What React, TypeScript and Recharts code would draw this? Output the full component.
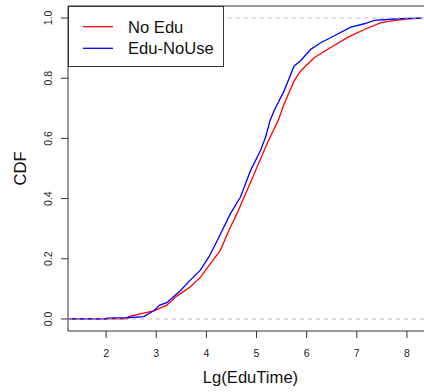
import { LineChart, Line, XAxis, YAxis, ReferenceLine, ReferenceArea } from "recharts";

const xTicks = [2, 3, 4, 5, 6, 7, 8];
const yTicks = [0, 0.2, 0.4, 0.6, 0.8, 1];
const xRange = [1.24, 8.54];
const yRange = [-0.04, 1.04];

// No Edu (red) cdf
const noEduX = [1.24, 2.42, 2.45, 2.68, 2.95, 3.21, 3.41, 3.68, 3.88, 4.08, 4.28, 4.45, 4.61, 4.81, 5.01, 5.21, 5.35, 5.43, 5.55, 5.75, 5.88, 6.15, 6.48, 6.81, 7.15, 7.48, 7.81, 8.11, 8.3];
const noEduP = [0, 0, 0.008, 0.017, 0.027, 0.046, 0.076, 0.107, 0.138, 0.184, 0.228, 0.295, 0.35, 0.427, 0.504, 0.582, 0.631, 0.659, 0.714, 0.791, 0.824, 0.868, 0.902, 0.935, 0.962, 0.985, 0.993, 0.998, 1.0];

// Edu-NoUse (blue) cdf
const eduNoUseX = [1.24, 2.0, 2.02, 2.4, 2.75, 2.95, 3.07, 3.21, 3.48, 3.68, 3.88, 4.05, 4.21, 4.48, 4.68, 4.88, 5.08, 5.18, 5.27, 5.35, 5.55, 5.75, 5.88, 6.08, 6.28, 6.61, 6.88, 7.15, 7.35, 7.68, 8.0, 8.3];
const eduNoUseP = [0, 0, 0.003, 0.004, 0.008, 0.027, 0.046, 0.054, 0.094, 0.129, 0.162, 0.206, 0.258, 0.35, 0.405, 0.493, 0.56, 0.604, 0.659, 0.692, 0.758, 0.841, 0.858, 0.896, 0.918, 0.946, 0.97, 0.981, 0.992, 0.996, 0.999, 1.0];

const seriesNames = ["No Edu", "Edu-NoUse"];
const seriesColors = ["#ff0000", "#0000ff"];

const toRows = (xs: number[], ps: number[]) => xs.map((x, i) => ({ x, p: ps[i] }));
const series = [toRows(noEduX, noEduP), toRows(eduNoUseX, eduNoUseP)];

const font = "'Liberation Sans', Arial, sans-serif";

const XTick = ({ x, y, payload }: any) => (
  <text x={x} y={y + 17} textAnchor="middle" fontSize={10.5} fill="#222" fontFamily={font}>
    {payload.value}
  </text>
);

const YTick = ({ x, y, payload }: any) => (
  <text
    x={x - 6.5}
    y={y}
    textAnchor="middle"
    fontSize={10.5}
    fill="#222"
    fontFamily={font}
    transform={`rotate(-90, ${x - 6.5}, ${y})`}
  >
    {payload.value.toFixed(1)}
  </text>
);

export default function App() {
  return (
    <div style={{ position: "absolute", left: 0, top: 0, width: 424, height: 392, overflow: "hidden", background: "#fff" }}>
      <LineChart width={434} height={392} margin={{ top: 6, right: 0, left: 0, bottom: 0 }}>
        <XAxis
          dataKey="x"
          type="number"
          domain={xRange}
          ticks={xTicks}
          allowDataOverflow
          height={61}
          axisLine={false}
          tickSize={7}
          tickLine={{ stroke: "#333" }}
          tick={<XTick />}
        />
        <YAxis
          type="number"
          domain={yRange}
          ticks={yTicks}
          allowDataOverflow
          width={68}
          axisLine={false}
          tickSize={7}
          tickLine={{ stroke: "#333" }}
          tick={<YTick />}
        />
        <ReferenceArea x1={xRange[0]} x2={xRange[1]} y1={yRange[0]} y2={yRange[1]} fill="none" stroke="#333" strokeWidth={1} />
        {series.map((rows, i) => (
          <Line
            key={seriesNames[i]}
            data={rows}
            dataKey="p"
            name={seriesNames[i]}
            type="linear"
            stroke={seriesColors[i]}
            strokeWidth={1.3}
            dot={false}
            isAnimationActive={false}
          />
        ))}
        <ReferenceLine y={0} stroke="#bbb" strokeDasharray="4 4" />
        <ReferenceLine y={1} stroke="#bbb" strokeDasharray="4 4" />
      </LineChart>

      <svg style={{ position: "absolute", left: 68, top: 6 }} width={156} height={61}>
        <rect x={0.5} y={0.5} width={155} height={60} fill="#fff" stroke="#333" />
        {seriesNames.map((name, i) => (
          <g key={name}>
            <line x1={15} x2={45} y1={20.7 + i * 21.6} y2={20.7 + i * 21.6} stroke={seriesColors[i]} strokeWidth={1.3} />
            <text x={60} y={27.3 + i * 21} fontSize={16.6} fill="#111" fontFamily={font}>
              {name}
            </text>
          </g>
        ))}
      </svg>

      <svg style={{ position: "absolute", left: 0, top: 0, pointerEvents: "none" }} width={434} height={392}>
        <text x={250.5} y={382.7} textAnchor="middle" fontSize={16.6} fill="#111" fontFamily={font}>
          Lg(EduTime)
        </text>
        <text x={26} y={168.5} textAnchor="middle" fontSize={16.6} fill="#111" fontFamily={font} transform="rotate(-90, 26, 168.5)">
          CDF
        </text>
      </svg>
    </div>
  );
}
